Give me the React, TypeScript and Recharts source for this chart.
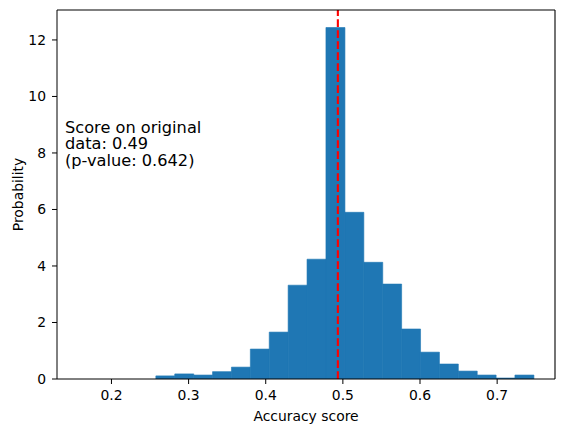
import {
  ComposedChart,
  Bar,
  XAxis,
  YAxis,
  ReferenceLine,
} from "recharts";

// histogram bins (centre of each bin) and density heights
const binCenters = [
  0.2698, 0.2943, 0.3188, 0.3433, 0.3678, 0.3923, 0.4168, 0.4413, 0.4658, 0.4903,
  0.5148, 0.5393, 0.5638, 0.5883, 0.6128, 0.6373, 0.6618, 0.6863, 0.7108, 0.7353,
];
const density = [
  0.11, 0.18, 0.14, 0.26, 0.42, 1.06, 1.66, 3.32, 4.24, 12.44,
  5.9, 4.13, 3.36, 1.77, 0.95, 0.53, 0.28, 0.14, 0.035, 0.14,
];
const xTicks = [0.2, 0.3, 0.4, 0.5, 0.6, 0.7];
const yTicks = [0, 2, 4, 6, 8, 10, 12];
const xDomain = [0.1294, 0.775];
const yDomain = [0, 13.06];
const originalScore = 0.4935;
const annotation = ["Score on original", "data: 0.49", "(p-value: 0.642)"];

const data = binCenters.map((x, i) => ({ x, density: density[i] }));

const font = "'DejaVu Sans', sans-serif";
const tickStyle = { fontSize: 13.9, fill: "#000", fontFamily: font };

const App = () => {
  return (
    <div style={{ position: "absolute", left: 0, top: 0, width: 563, height: 432, fontFamily: font }}>
      <ComposedChart
        width={563}
        height={432}
        data={data}
        barCategoryGap={0}
        barGap={0}
        margin={{ top: 10, right: 8, left: 10, bottom: 8 }}
      >
        <XAxis
          dataKey="x"
          type="number"
          domain={xDomain}
          allowDataOverflow
          ticks={xTicks}
          tickFormatter={(v: number) => v.toFixed(1)}
          height={45}
          tickSize={5}
          tickMargin={6}
          stroke="#000"
          tick={tickStyle}
          label={{ value: "Accuracy score", position: "insideBottom", offset: 3, fill: "#000", fontSize: 13.9 }}
        />
        <YAxis
          type="number"
          domain={yDomain}
          allowDataOverflow
          ticks={yTicks}
          width={47}
          tickSize={5}
          tickMargin={6}
          stroke="#000"
          tick={tickStyle}
        />
        <Bar dataKey="density" fill="#1f77b4" stroke="#1f77b4" strokeWidth={0.6} isAnimationActive={false} />
        <ReferenceLine x={originalScore} stroke="#ff0000" strokeWidth={2.1} strokeDasharray="7.7 3.3" />
        {/* top and right spines */}
        <ReferenceLine y={yDomain[1]} stroke="#000" strokeWidth={1.1} ifOverflow="visible" />
        <ReferenceLine x={xDomain[1]} stroke="#000" strokeWidth={1.1} ifOverflow="visible" />
      </ComposedChart>
      <svg width={563} height={432} style={{ position: "absolute", left: 0, top: 0, pointerEvents: "none" }}>
        <text x={22.5} y={194.5} transform="rotate(-90 22.5 194.5)" textAnchor="middle" fontSize={13.9} fill="#000" fontFamily={font}>
          Probability
        </text>
        {annotation.map((line, i) => (
          <text key={i} x={65} y={132.7 + i * 16.7} fontSize={16.2} fill="#000" fontFamily={font}>
            {line}
          </text>
        ))}
      </svg>
    </div>
  );
};

export default App;
